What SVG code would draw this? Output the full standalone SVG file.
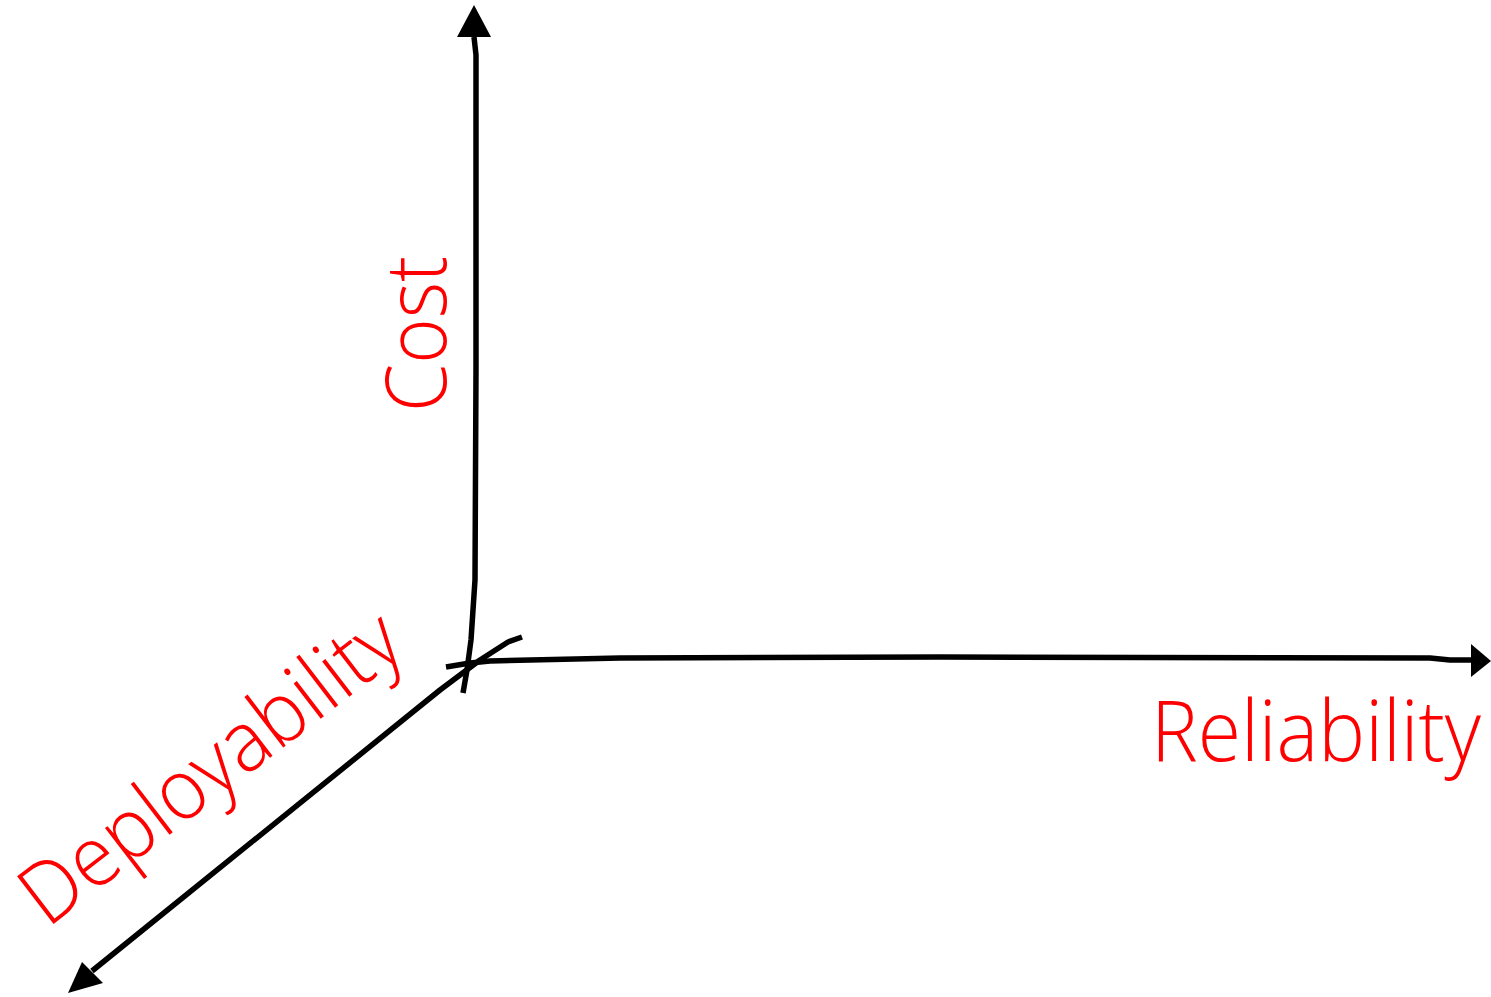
<svg xmlns="http://www.w3.org/2000/svg" width="1491" height="997" viewBox="0 0 1491 997">
<style>
.axis{fill:none;stroke:#000;stroke-width:5.5;stroke-linecap:butt;stroke-linejoin:round}
.head{fill:#000;stroke:none}
.lbl{font-family:"Open Sans","Liberation Sans",sans-serif;font-weight:300;font-size:84px;fill:#ff0000}
</style>
<rect width="1491" height="997" fill="#fff"/>
<g id="connectors">
<path class="axis" d="M463,693 L467,670 L471,640 L475,580 L476,370 L476,55 L474,37"/>
<polygon class="head" points="474,5 457,37 491,37"/>
<path class="axis" d="M446,667 L470,663 L490,661 L620,658 L940,657 L1430,658 L1450,660 L1472,660"/>
<polygon class="head" points="1491,661 1471,644 1471,677"/>
<path class="axis" d="M522,637 L508,642 L480,660 L440,690 L92,971"/>
<polygon class="head" points="68,993 82,962 103,983"/>
</g>
<g id="cost">
<text class="lbl" transform="translate(446,412) rotate(-90)" x="0" y="0" textLength="156" lengthAdjust="spacingAndGlyphs">Cost</text>
</g>
<g id="reliability">
<text class="lbl" x="1151" y="761" textLength="330" lengthAdjust="spacingAndGlyphs">Reliability</text>
</g>
<g id="deployability">
<text class="lbl" transform="translate(52,925) rotate(-37.5)" x="-6" y="0" textLength="455" lengthAdjust="spacingAndGlyphs">Deployability</text>
</g>
</svg>
